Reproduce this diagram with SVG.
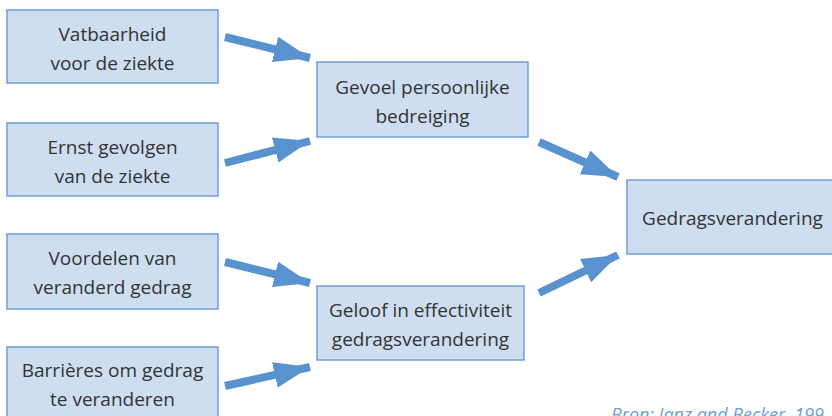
<svg xmlns="http://www.w3.org/2000/svg" width="832" height="416" viewBox="0 0 832 416">
<defs>
<style>
.box{fill:#cfddf0;stroke:#6f9fd6;stroke-width:1.5}
.t{font-family:"Open Sans","Noto Sans",sans-serif;font-size:19px;fill:#333333;text-anchor:middle}
.arr{stroke:#5893cf;stroke-width:8;fill:none;marker-end:url(#ah)}
.src{font-family:"Open Sans","Noto Sans",sans-serif;font-size:18px;font-style:italic;fill:#6f9fd6}
</style>
<marker id="ah" markerUnits="userSpaceOnUse" markerWidth="40" markerHeight="30" refX="36" refY="13" orient="auto" viewBox="0 0 40 30">
<path d="M0,0 L36,13 L0,26 Z" fill="#5893cf"/>
</marker>
</defs>
<g id="connectors">
<line class="arr" x1="225" y1="37" x2="310" y2="58"/>
<line class="arr" x1="225" y1="163" x2="310" y2="141"/>
<line class="arr" x1="225" y1="262" x2="310" y2="283"/>
<line class="arr" x1="225" y1="386" x2="310" y2="367"/>
<line class="arr" x1="539" y1="142" x2="618" y2="177"/>
<line class="arr" x1="539" y1="293" x2="618" y2="255"/>
</g>
<g id="n1"><rect class="box" x="7" y="10" width="211" height="73"/><text class="t" x="112.5" y="41">Vatbaarheid</text><text class="t" x="112.5" y="70">voor de ziekte</text></g>
<g id="n2"><rect class="box" x="7" y="123" width="211" height="73"/><text class="t" x="112.5" y="154">Ernst gevolgen</text><text class="t" x="112.5" y="183">van de ziekte</text></g>
<g id="n3"><rect class="box" x="7" y="234" width="211" height="75"/><text class="t" x="112.5" y="265">Voordelen van</text><text class="t" x="112.5" y="294">veranderd gedrag</text></g>
<g id="n4"><rect class="box" x="7" y="347" width="211" height="75"/><text class="t" x="112.5" y="377">Barrières om gedrag</text><text class="t" x="112.5" y="406">te veranderen</text></g>
<g id="n5"><rect class="box" x="317" y="62" width="211" height="75"/><text class="t" x="422.5" y="94">Gevoel persoonlijke</text><text class="t" x="422.5" y="123">bedreiging</text></g>
<g id="n6"><rect class="box" x="317" y="286" width="207" height="74"/><text class="t" x="420.5" y="317">Geloof in effectiviteit</text><text class="t" x="420.5" y="346">gedragsverandering</text></g>
<g id="n7"><rect class="box" x="627" y="180" width="211" height="74"/><text class="t" x="732.5" y="225">Gedragsverandering</text></g>
<text class="src" x="611" y="421">Bron: Janz and Becker, 199</text>
</svg>
